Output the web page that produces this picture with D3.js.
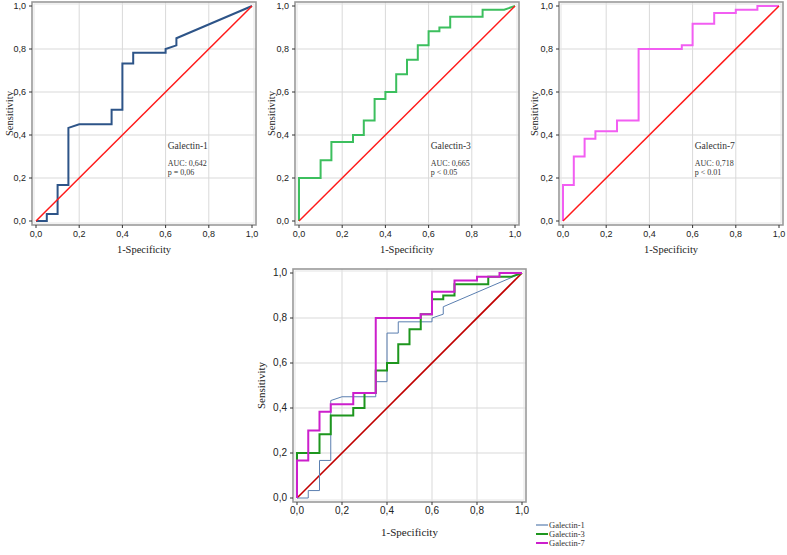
<!DOCTYPE html>
<html>
<head>
<meta charset="utf-8">
<script src="https://cdn.jsdelivr.net/npm/d3@7"></script>
<style>
  body { margin: 0; background: #fff; }
  svg { display: block; }
</style>
</head>
<body>
<div id="chart"></div>
<script>
// ROC points (1-specificity, sensitivity)
var gal1X = [0, 0.05, 0.05, 0.1, 0.1, 0.15, 0.15, 0.2, 0.35, 0.35, 0.4, 0.4, 0.45, 0.45, 0.6, 0.6, 0.65, 0.65, 1];
var gal1Y = [0, 0, 0.033, 0.033, 0.167, 0.167, 0.433, 0.45, 0.45, 0.517, 0.517, 0.733, 0.733, 0.783, 0.783, 0.8, 0.817, 0.85, 1];

var gal3X = [0, 0, 0.1, 0.1, 0.15, 0.15, 0.25, 0.25, 0.3, 0.3, 0.35, 0.35, 0.4, 0.4, 0.45, 0.45, 0.5, 0.5, 0.55, 0.55, 0.6, 0.6, 0.65, 0.65, 0.7, 0.7, 0.85, 0.85, 0.95, 1];
var gal3Y = [0, 0.2, 0.2, 0.283, 0.283, 0.367, 0.367, 0.4, 0.4, 0.467, 0.467, 0.567, 0.567, 0.6, 0.6, 0.683, 0.683, 0.75, 0.75, 0.817, 0.817, 0.883, 0.883, 0.9, 0.9, 0.95, 0.95, 0.983, 0.983, 1];

var gal7X = [0, 0, 0.05, 0.05, 0.1, 0.1, 0.15, 0.15, 0.25, 0.25, 0.35, 0.35, 0.55, 0.55, 0.6, 0.6, 0.7, 0.7, 0.8, 0.8, 0.9, 0.9, 1];
var gal7Y = [0, 0.167, 0.167, 0.3, 0.3, 0.383, 0.383, 0.417, 0.417, 0.467, 0.467, 0.8, 0.8, 0.817, 0.817, 0.917, 0.917, 0.967, 0.967, 0.983, 0.983, 1, 1];

var refX = [0, 1];
var refY = [0, 1];

var tickVals = [0, 0.2, 0.4, 0.6, 0.8, 1.0];
var tickLabels = ["0,0", "0,2", "0,4", "0,6", "0,8", "1,0"];

var seriesNames = ["Galectin-1", "Galectin-3", "Galectin-7"];
var aucLabels = ["AUC: 0,642", "AUC: 0,665", "AUC: 0,718"];
var pLabels = ["p = 0,06", "p < 0.05", "p < 0.01"];

var W = 787, H = 555;
var svg = d3.select("#chart").append("svg")
    .attr("width", W)
    .attr("height", H);

function pts(xs, ys) {
    return xs.map(function(x, i) { return [x, ys[i]]; });
}

var series = [
    {name: seriesNames[0], data: pts(gal1X, gal1Y)},
    {name: seriesNames[1], data: pts(gal3X, gal3Y)},
    {name: seriesNames[2], data: pts(gal7X, gal7Y)}
];

function panel(px, py, pw, ph, labelSize) {
    var g = svg.append("g");
    var x = d3.scaleLinear().domain([0, 1]).range([px, px + pw]);
    var y = d3.scaleLinear().domain([0, 1]).range([py + ph, py]);

    // grid
    g.selectAll(".gx").data(tickVals.slice(1, -1)).enter().append("line")
        .attr("x1", function(d) { return x(d); })
        .attr("x2", function(d) { return x(d); })
        .attr("y1", py - 4).attr("y2", py + ph + 4)
        .attr("stroke", "#d9d9d9").attr("stroke-width", 1);
    g.selectAll(".gy").data(tickVals.slice(1, -1)).enter().append("line")
        .attr("y1", function(d) { return y(d); })
        .attr("y2", function(d) { return y(d); })
        .attr("x1", px - 4).attr("x2", px + pw + 4)
        .attr("stroke", "#d9d9d9").attr("stroke-width", 1);

    // frame (grey double border)
    g.append("rect")
        .attr("x", px - 4).attr("y", py - 4)
        .attr("width", pw + 8).attr("height", ph + 8)
        .attr("fill", "none").attr("stroke", "#9a9a9a").attr("stroke-width", 1.6);
    g.append("rect")
        .attr("x", px - 2).attr("y", py - 2)
        .attr("width", pw + 4).attr("height", ph + 4)
        .attr("fill", "none").attr("stroke", "#e4e4e4").attr("stroke-width", 1);

    // ticks
    g.selectAll(".tx").data(tickVals).enter().append("line")
        .attr("x1", function(d) { return x(d); })
        .attr("x2", function(d) { return x(d); })
        .attr("y1", py + ph + 4).attr("y2", py + ph + 7)
        .attr("stroke", "#333");
    g.selectAll(".ty").data(tickVals).enter().append("line")
        .attr("y1", function(d) { return y(d); })
        .attr("y2", function(d) { return y(d); })
        .attr("x1", px - 4).attr("x2", px - 7)
        .attr("stroke", "#333");

    g.selectAll(".lx").data(tickVals).enter().append("text")
        .attr("x", function(d) { return x(d); })
        .attr("y", py + ph + 16)
        .attr("text-anchor", "middle")
        .attr("font-family", "Liberation Sans, Arial, sans-serif")
        .attr("font-size", labelSize)
        .attr("fill", "#222")
        .text(function(d, i) { return tickLabels[i]; });
    g.selectAll(".ly").data(tickVals).enter().append("text")
        .attr("x", px - 10)
        .attr("y", function(d) { return y(d) + 3; })
        .attr("text-anchor", "end")
        .attr("font-family", "Liberation Sans, Arial, sans-serif")
        .attr("font-size", labelSize)
        .attr("fill", "#222")
        .text(function(d, i) { return tickLabels[i]; });

    return {g: g, x: x, y: y};
}

function drawLine(p, data, color, width) {
    var line = d3.line()
        .x(function(d) { return p.x(d[0]); })
        .y(function(d) { return p.y(d[1]); });
    p.g.append("path")
        .datum(data)
        .attr("d", line)
        .attr("fill", "none")
        .attr("stroke", color)
        .attr("stroke-width", width)
        .attr("stroke-linejoin", "miter");
}

function titles(p, px, py, pw, ph, sensX, specY, size) {
    p.g.append("text")
        .attr("x", px + pw / 2).attr("y", specY)
        .attr("text-anchor", "middle")
        .attr("font-family", "Liberation Serif, Times New Roman, serif")
        .attr("font-size", size)
        .attr("fill", "#222")
        .text("1-Specificity");
    p.g.append("text")
        .attr("transform", "translate(" + sensX + "," + (py + ph / 2) + ") rotate(-90)")
        .attr("text-anchor", "middle")
        .attr("font-family", "Liberation Serif, Times New Roman, serif")
        .attr("font-size", size)
        .attr("fill", "#222")
        .text("Sensitivity");
}

var refData = pts(refX, refY);
var topColors = ["#2d5488", "#3cbf5e", "#f25ef2"];
var topPanels = [
    {px: 36, sens: 13},
    {px: 299, sens: 275},
    {px: 563, sens: 538}
];

topPanels.forEach(function(tp, i) {
    var p = panel(tp.px, 6, 216, 215, 9);
    drawLine(p, series[i].data, topColors[i], 2);
    drawLine(p, refData, "#ff1a1a", 1.5);
    titles(p, tp.px, 6, 216, 215, tp.sens, 253, 10.5);
    var tx = p.x(0.61);
    p.g.append("text")
        .attr("x", tx).attr("y", 149)
        .attr("font-family", "Liberation Serif, Times New Roman, serif")
        .attr("font-size", 9.5).attr("fill", "#333")
        .text(series[i].name);
    p.g.append("text")
        .attr("x", tx).attr("y", 166)
        .attr("font-family", "Liberation Serif, Times New Roman, serif")
        .attr("font-size", 8).attr("fill", "#333")
        .text(aucLabels[i]);
    p.g.append("text")
        .attr("x", tx).attr("y", 175)
        .attr("font-family", "Liberation Serif, Times New Roman, serif")
        .attr("font-size", 8).attr("fill", "#333")
        .text(pLabels[i]);
});

// combined panel
var comboColors = ["#5b7fb0", "#1e961e", "#cc1fcc"];
var comboWidths = [1, 2, 2];
var pc = panel(297, 273, 225, 225, 10);
drawLine(pc, refData, "#c00000", 1.6);
drawLine(pc, series[0].data, comboColors[0], comboWidths[0]);
drawLine(pc, series[1].data, comboColors[1], comboWidths[1]);
drawLine(pc, series[2].data, comboColors[2], comboWidths[2]);
titles(pc, 297, 273, 225, 225, 265, 536, 11);

// legend
var leg = svg.append("g").attr("transform", "translate(536,525)");
series.forEach(function(s, i) {
    leg.append("line")
        .attr("x1", 0).attr("x2", 12)
        .attr("y1", i * 9).attr("y2", i * 9)
        .attr("stroke", comboColors[i])
        .attr("stroke-width", comboWidths[i] === 1 ? 1.2 : 2);
    leg.append("text")
        .attr("x", 13).attr("y", i * 9 + 3)
        .attr("font-family", "Liberation Serif, Times New Roman, serif")
        .attr("font-size", 8.5).attr("fill", "#333")
        .text(s.name);
});
</script>
</body>
</html>
